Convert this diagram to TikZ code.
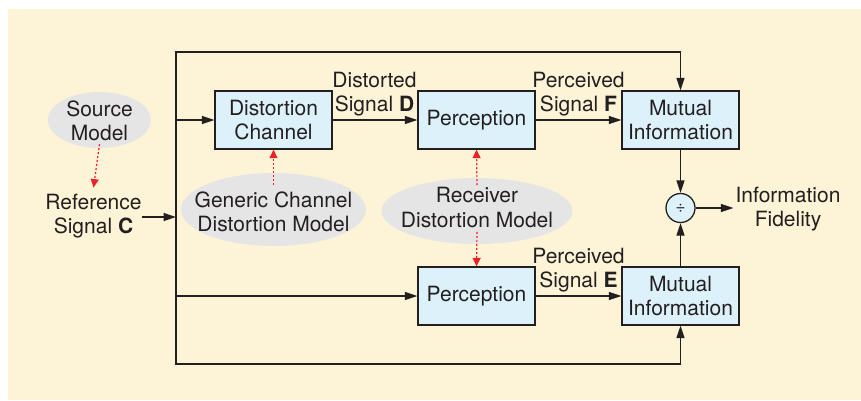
\documentclass[tikz,border=0pt]{standalone}
\usepackage{fontspec}
\setmainfont{TeX Gyre Heros}
\usetikzlibrary{arrows.meta,shapes.geometric}

\definecolor{paper}{HTML}{FDF3D6}
\definecolor{boxfill}{HTML}{DDF1FA}
\definecolor{ink}{HTML}{231F20}
\definecolor{cloud}{HTML}{E5E5E5}
\definecolor{hint}{HTML}{EA2227}

\begin{document}
\begin{tikzpicture}[x=1pt,y=-1pt,
  every node/.style={font=\fontsize{21}{24.5}\selectfont, text=ink, align=center, inner sep=0pt},
  block/.style={draw=ink, fill=boxfill, line width=1.3pt, minimum width=117pt, minimum height=58pt},
  model/.style={ellipse, fill=cloud, inner sep=0pt},
  flow/.style={draw=ink, line width=1.3pt, -{Triangle[length=12.5pt,width=8pt]}},
  hintarrow/.style={draw=hint, line width=1.2pt, dash pattern=on 2pt off 2pt, -{Triangle[length=8.5pt,width=8pt]}},
]
% page and background panel
\useasboundingbox (0,0) rectangle (861,400);
\fill[paper] (8,9) rectangle (861,400);

% gray model clouds
\node[model, minimum width=103pt, minimum height=56pt] (srcm) at (99.5,120) {};
\node (srct) at (99.5,121) {Source\\Model};
\node[model, minimum width=185pt, minimum height=73pt] (genm) at (273.5,209.5) {};
\node (gent) at (273.5,212) {Generic Channel\\Distortion Model};
\node[model, minimum width=191pt, minimum height=66pt] (rcvm) at (477,211) {};
\node (rcvt) at (477,207.5) {Receiver\\Distortion Model};

% processing blocks
\node[block] (dc)  at (273.5,120) {Distortion\\Channel};
\node[block] (pa)  at (476.5,120) {Perception};
\node[block] (mia) at (680.5,120) {Mutual\\Information};
\node[block] (pb)  at (476.5,296) {Perception};
\node[block] (mib) at (680.5,296) {Mutual\\Information};
\node[circle, draw=ink, fill=boxfill, line width=1.3pt, minimum size=29pt] (div) at (680.5,208) {\fontsize{17}{17}\selectfont ÷};

% signal labels
\node (ref) at (93.5,216) {Reference\\Signal \textbf{C}};
\node (lbd) at (374.5,94) {Distorted\\Signal \textbf{D}};
\node (lbf) at (578.5,94) {Perceived\\Signal \textbf{F}};
\node (lbe) at (578.5,270) {Perceived\\Signal \textbf{E}};
\node (fid) at (788,209) {Information\\Fidelity};

% reference signal distribution
\coordinate (split) at (176,217);
\coordinate (tl) at (176,52);
\coordinate (bl) at (176,364);
\draw[flow] (ref.east |- split) -- (split);
\draw[flow] (split) -- (tl) -| (mia);
\draw[flow] (split) -- (bl) -| (mib);
\draw[flow] (split |- dc) -- (dc);
\draw[flow] (split |- pb) -- (pb);

% main chains
\draw[flow] (dc) -- (pa);
\draw[flow] (pa) -- (mia);
\draw[flow] (pb) -- (mib);
\draw[flow] (mia) -- (div);
\draw[flow] (mib) -- (div);
\draw[flow] (div) -- ([xshift=-2pt]div -| fid.west);

% model influences
\draw[hintarrow] ([yshift=4pt]srcm.south) -- ([yshift=6pt]ref.north);
\draw[hintarrow] ([yshift=7pt]gent.north) -- (dc.south);
\draw[hintarrow] ([yshift=2pt]rcvt.north) -- (pa.south);
\draw[hintarrow] ([yshift=-4pt]rcvt.south) -- (pb.north);
\end{tikzpicture}
\end{document}
